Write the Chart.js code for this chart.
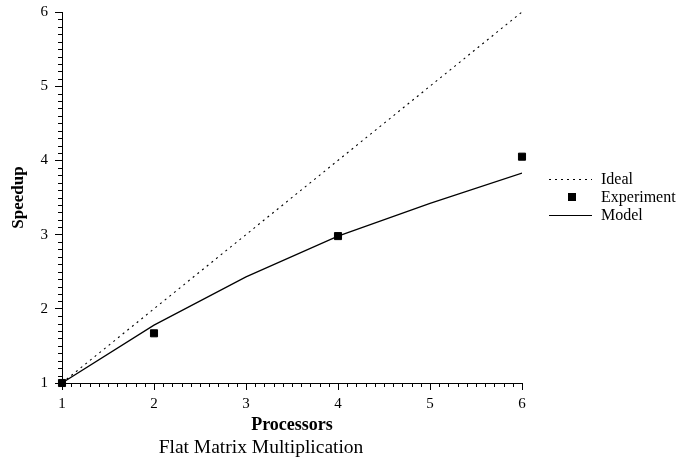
<!DOCTYPE html>
<html>
<head>
<meta charset="utf-8">
<script src="https://cdn.jsdelivr.net/npm/chart.js@4.4.0/dist/chart.umd.min.js"></script>
<style>
  html, body { margin: 0; padding: 0; background: #fff; }
  #wrap { width: 681px; height: 469px; }
</style>
</head>
<body>
<div id="wrap"><canvas id="speedupChart"></canvas></div>
<script>
// data
var idealProcs = [1, 6];
var idealSpeedup = [1, 6];
var expProcs = [1, 2, 4, 6];
var expSpeedup = [1, 1.67, 2.98, 4.05];
var modelProcs = [1, 2, 3, 4, 5, 6];
var modelSpeedup = [1, 1.78, 2.43, 2.98, 3.42, 3.83];
var xTicks = [1, 2, 3, 4, 5, 6];
var yTicks = [1, 2, 3, 4, 5, 6];

var serif = "'Liberation Serif', 'Times New Roman', serif";

function toPoints(xs, ys){
    var pts = [];
    for(var i = 0; i < xs.length; i++){
        pts.push({x: xs[i], y: ys[i]});
    }
    return pts;
}

//minor ticks every 0.1 on both axes, drawn outside the plot
var minorTicks = {
    id: 'minorTicks',
    afterDraw: function(chart){
        var ctx = chart.ctx;
        var xs = chart.scales.x, ys = chart.scales.y;
        var area = chart.chartArea;
        ctx.save();
        ctx.strokeStyle = '#000';
        ctx.lineWidth = 1;
        ctx.beginPath();
        for(var i = 10; i <= 60; i++){
            if(i % 10 === 0) continue;
            var px = Math.round(xs.getPixelForValue(i / 10)) + 0.5;
            ctx.moveTo(px, area.bottom);
            ctx.lineTo(px, area.bottom + 4);
            var py = Math.round(ys.getPixelForValue(i / 10)) + 0.5;
            ctx.moveTo(area.left, py);
            ctx.lineTo(area.left - 4, py);
        }
        ctx.stroke();
        ctx.restore();
    }
};

//legend on the right, next to the plot
var sideLegend = {
    id: 'sideLegend',
    afterDraw: function(chart){
        var ctx = chart.ctx;
        var sets = chart.data.datasets;
        var rowY = [179, 197, 215];
        var x0 = 549, x1 = 592, tx = 601;
        ctx.save();
        ctx.font = '16px ' + serif;
        ctx.fillStyle = '#000';
        ctx.textBaseline = 'middle';
        for(var i = 0; i < sets.length; i++){
            var d = sets[i];
            var y = rowY[i];
            if(d.showLine){
                ctx.beginPath();
                ctx.setLineDash(d.borderDash || []);
                ctx.strokeStyle = d.borderColor;
                ctx.lineWidth = d.borderWidth;
                ctx.moveTo(x0, y + 0.5);
                ctx.lineTo(x1, y + 0.5);
                ctx.stroke();
                ctx.setLineDash([]);
            } else {
                ctx.fillStyle = d.backgroundColor;
                ctx.fillRect(568, y - 4, 8, 8);
            }
            ctx.fillStyle = '#000';
            ctx.fillText(d.label, tx, y + 1);
        }
        ctx.restore();
    }
};

var ctx = document.getElementById('speedupChart');

var chart = new Chart(ctx, {
    type: 'scatter',
    data: {
        datasets: [{
            label: 'Ideal',
            data: toPoints(idealProcs, idealSpeedup),
            showLine: true,
            borderColor: '#000',
            borderWidth: 1.1,
            borderDash: [2, 4],
            pointRadius: 0
        }, {
            label: 'Experiment',
            data: toPoints(expProcs, expSpeedup),
            showLine: false,
            backgroundColor: '#000',
            borderColor: '#000',
            borderWidth: 1,
            pointStyle: 'rect',
            pointRadius: 5,
            clip: false
        }, {
            label: 'Model',
            data: toPoints(modelProcs, modelSpeedup),
            showLine: true,
            borderColor: '#000',
            borderWidth: 1.2,
            pointRadius: 0
        }]
    },
    options: {
        responsive: true,
        maintainAspectRatio: false,
        animation: false,
        layout: {
            autoPadding: false,
            padding: {left: 0, right: 159, top: 12, bottom: 5}
        },
        plugins: {
            legend: {display: false},
            tooltip: {enabled: false},
            title: {
                display: true,
                position: 'bottom',
                text: 'Flat Matrix Multiplication',
                color: '#000',
                font: {family: serif, size: 19.5, weight: 'normal'},
                padding: {top: 0, bottom: 4}
            }
        },
        scales: {
            x: {
                type: 'linear',
                min: 1,
                max: 6,
                afterBuildTicks: function(s){
                    s.ticks = xTicks.map(function(v){ return {value: v}; });
                },
                afterFit: function(s){
                    s.height = 53.6;
                    s.paddingLeft = 0;
                    s.paddingRight = 0;
                },
                grid: {display: true, drawOnChartArea: false, tickLength: 7, color: '#000'},
                border: {display: true, color: '#000', width: 1},
                ticks: {color: '#000', padding: 5, maxRotation: 0, font: {family: serif, size: 15}},
                title: {
                    display: true,
                    text: 'Processors',
                    color: '#000',
                    font: {family: serif, size: 18, weight: 'bold'},
                    padding: {top: 1, bottom: 0}
                }
            },
            y: {
                type: 'linear',
                min: 1,
                max: 6,
                afterBuildTicks: function(s){
                    s.ticks = yTicks.map(function(v){ return {value: v}; });
                },
                afterFit: function(s){
                    s.width = 62;
                    s.paddingTop = 0;
                    s.paddingBottom = 0;
                },
                grid: {display: true, drawOnChartArea: false, tickLength: 7, color: '#000'},
                border: {display: true, color: '#000', width: 1},
                ticks: {color: '#000', padding: 7, font: {family: serif, size: 15}},
                title: {
                    display: true,
                    text: 'Speedup',
                    color: '#000',
                    font: {family: serif, size: 17, weight: 'bold'},
                    padding: {top: 8, bottom: 4}
                }
            }
        }
    },
    plugins: [minorTicks, sideLegend]
});
</script>
</body>
</html>
